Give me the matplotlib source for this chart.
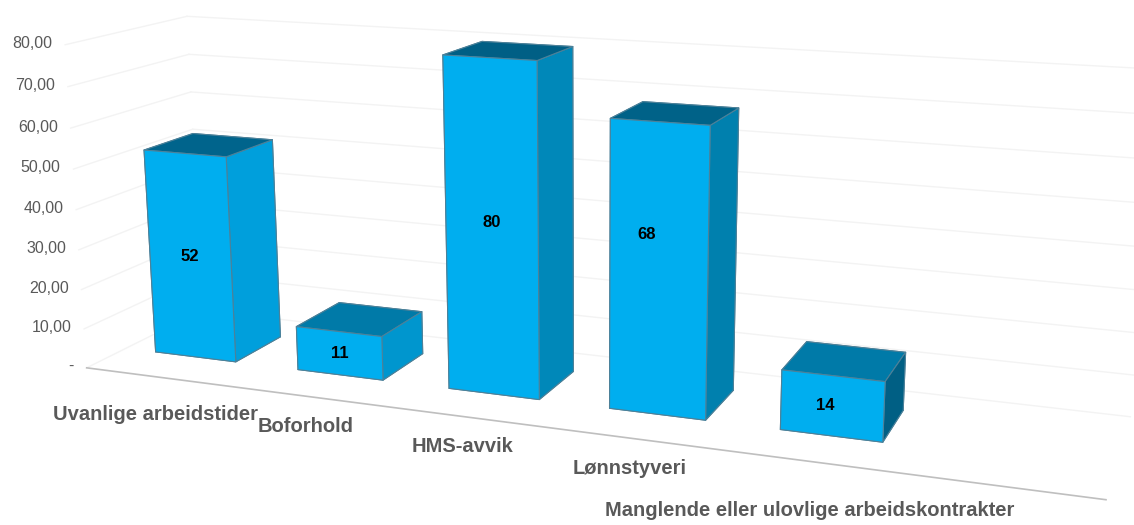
import numpy as np
import matplotlib
matplotlib.use('Agg')
import matplotlib.pyplot as plt

categories = ['Uvanlige arbeidstider', 'Boforhold', 'HMS-avvik', 'Lønnstyveri',
              'Manglende eller ulovlige arbeidskontrakter']
values = [52, 11, 80, 68, 14]
ticks = [0, 10, 20, 30, 40, 50, 60, 70, 80]
tick_labels = ['-', '10,00', '20,00', '30,00', '40,00', '50,00', '60,00', '70,00', '80,00']

# style per bar: front, right side, top (shading changes along the row)
front = '#00aeef'
side = ['#009fdc', '#0096ce', '#0088b9', '#0080ae', '#005f84']
top = ['#00648c', '#007aa8', '#005f85', '#006288', '#007aa8']
label_pos = [(53, 415), (258, 426), (412, 447), (573, 469), (605, 511)]
# where the value label sits on the bar front (height fraction, sideways nudge)
label_frac = [0.5, 0.5, 0.52, 0.62, 0.5]
label_dx = [0, 0, 0, -0.07, -0.04]

plt.rcParams['font.family'] = ['Liberation Sans', 'DejaVu Sans']

fig = plt.figure(figsize=(11.34, 5.25), dpi=100)
ax = fig.add_axes([-0.015, -0.587, 1.04, 1.04 * 1134 / 525], projection='3d')
ax.set_box_aspect((3.9, 0.85, 1.28), zoom=0.93)
ax.set_proj_type('persp', focal_length=0.3)
ax.view_init(elev=14, azim=-69.5)
ax.set_axis_off()
ax.computed_zorder = False

# the category axis has room for one more, empty, slot after the last bar
n = len(values) + 1
ax.set_xlim(0, n)
ax.set_ylim(0, 1)
ax.set_zlim(0, 80)

# walls
for t, lab in zip(ticks, tick_labels):
    ax.plot([0, 0], [0, 1], [t, t], color='#f3f3f3', lw=1, zorder=1)
    ax.plot([0, n], [1, 1], [t, t], color='#f3f3f3', lw=1, zorder=1)
    ax.text(-0.09, 0, t, lab, color='#595959', fontsize=11.5,
            ha='right', va='center', zorder=5)
ax.plot([0, n], [0, 0], [0, 0], color='#bfbfbf', lw=1.2, zorder=2)

bar_w = 0.57
bar_d = 0.42
y0 = 0.32
for i, v in enumerate(values):
    # faces: -z, +z, -y, +y, -x, +x
    cols = [front, top[i], front, front, front, side[i]]
    ax.bar3d(i + 0.5 - bar_w / 2, y0, 0, bar_w, bar_d, v, color=cols, shade=False,
             edgecolor='#4d8199', linewidth=0.8, zorder=3 + i * 0.01)
    ax.text(i + 0.5 + label_dx[i], y0, v * label_frac[i], str(v), color='black', fontsize=12,
            fontweight='bold', ha='center', va='center', zorder=5)

for name, (px, py) in zip(categories, label_pos):
    fig.text(px / 1134, 1 - py / 525, name, color='#595959', fontsize=14.5,
             fontweight='bold', ha='left', va='center')

fig.savefig('out.png', dpi=100)
